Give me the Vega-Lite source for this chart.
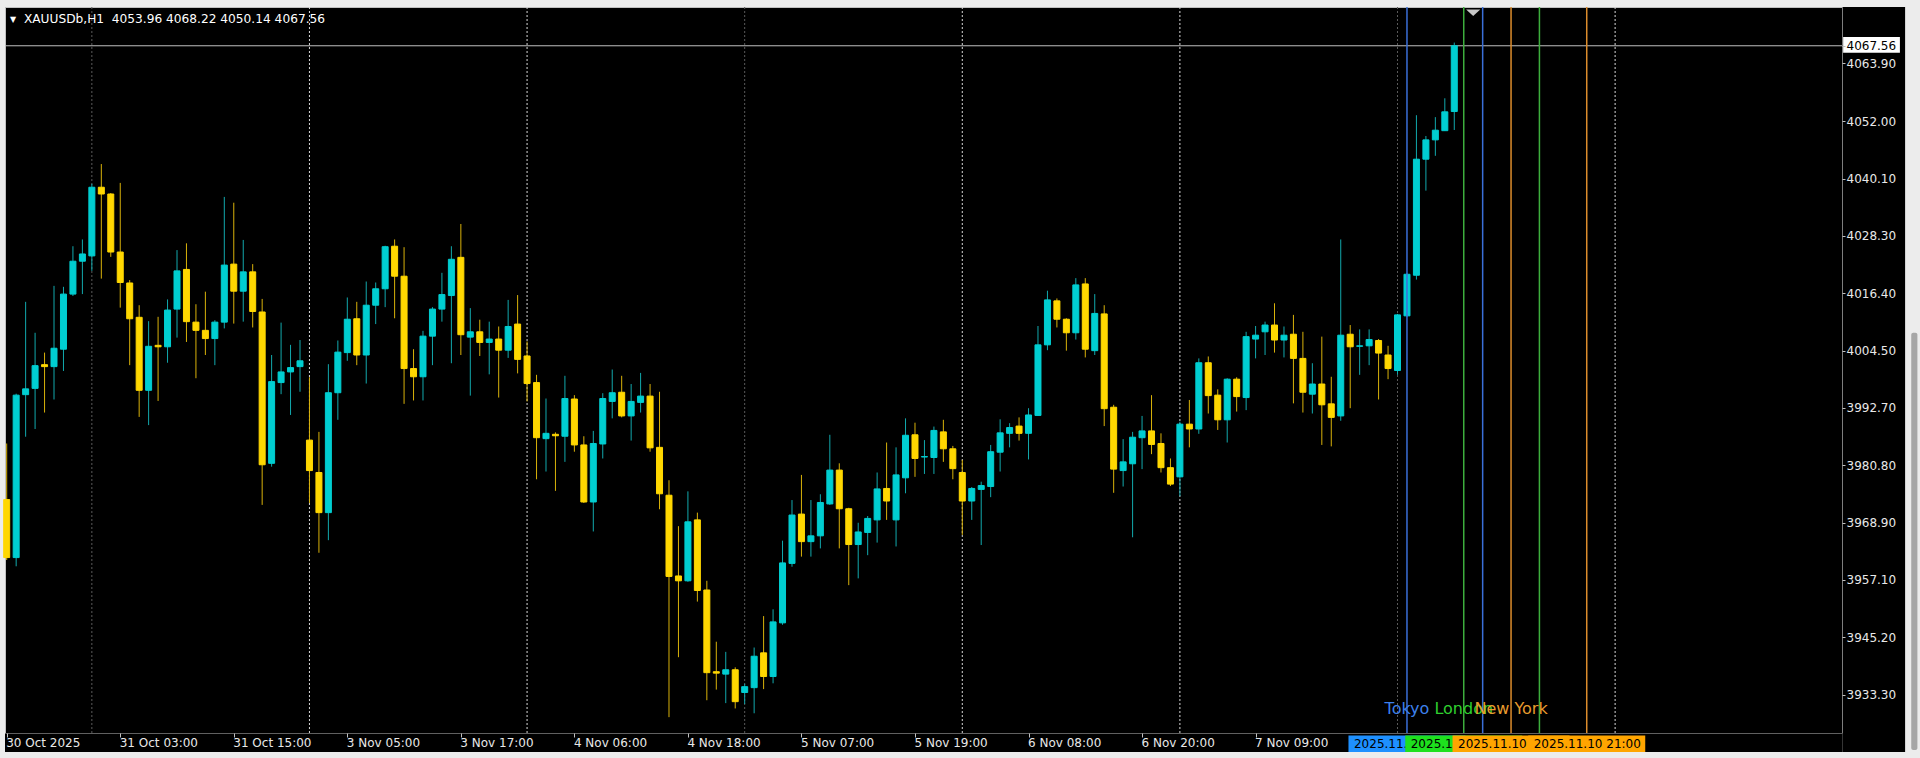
{
  "$schema": "https://vega.github.io/schema/vega-lite/v6.json",
  "width": 1837,
  "height": 726,
  "autosize": {"type": "none"},
  "padding": {"left": 5, "top": 7, "right": 78, "bottom": 25},
  "background": "#ececec",
  "view": {"stroke": "#c0c0c0", "strokeWidth": 1, "fill": "#000000"},
  "datasets": {
    "bars": [
      {"i":0,"o":3973.7,"h":3985.3,"l":3961.2,"c":3961.7},
      {"i":1,"o":3961.7,"h":3995.6,"l":3959.9,"c":3995.3},
      {"i":2,"o":3995.4,"h":4014.6,"l":3986.7,"c":3996.6},
      {"i":3,"o":3996.7,"h":4008.2,"l":3988.3,"c":4001.4},
      {"i":4,"o":4001.6,"h":4004.1,"l":3991.7,"c":4001.2},
      {"i":5,"o":4001.2,"h":4017.9,"l":3994.4,"c":4005.0},
      {"i":6,"o":4004.8,"h":4017.7,"l":4000.3,"c":4016.2},
      {"i":7,"o":4016.2,"h":4026.1,"l":4015.8,"c":4023.0},
      {"i":8,"o":4023.0,"h":4027.5,"l":4016.2,"c":4024.5},
      {"i":9,"o":4024.1,"h":4039.0,"l":4021.0,"c":4038.3},
      {"i":10,"o":4038.3,"h":4043.1,"l":4019.4,"c":4036.9},
      {"i":11,"o":4036.9,"h":4037.1,"l":4023.9,"c":4024.9},
      {"i":12,"o":4024.9,"h":4039.2,"l":4013.4,"c":4018.6},
      {"i":13,"o":4018.5,"h":4019.1,"l":4001.5,"c":4011.1},
      {"i":14,"o":4011.4,"h":4013.9,"l":3990.8,"c":3996.3},
      {"i":15,"o":3996.3,"h":4010.6,"l":3989.1,"c":4005.4},
      {"i":16,"o":4005.6,"h":4011.5,"l":3994.1,"c":4005.3},
      {"i":17,"o":4005.3,"h":4015.1,"l":4002.0,"c":4012.9},
      {"i":18,"o":4013.1,"h":4025.3,"l":4007.2,"c":4021.0},
      {"i":19,"o":4021.3,"h":4026.7,"l":4006.3,"c":4010.5},
      {"i":20,"o":4010.4,"h":4014.1,"l":3998.8,"c":4008.7},
      {"i":21,"o":4008.7,"h":4016.7,"l":4003.6,"c":4007.0},
      {"i":22,"o":4007.0,"h":4010.8,"l":4001.5,"c":4010.4},
      {"i":23,"o":4010.4,"h":4036.3,"l":4009.1,"c":4022.2},
      {"i":24,"o":4022.4,"h":4035.1,"l":4010.1,"c":4016.8},
      {"i":25,"o":4016.8,"h":4027.4,"l":4010.5,"c":4020.8},
      {"i":26,"o":4020.8,"h":4022.4,"l":4009.3,"c":4012.6},
      {"i":27,"o":4012.5,"h":4015.2,"l":3972.6,"c":3980.9},
      {"i":28,"o":3981.2,"h":4003.6,"l":3980.5,"c":3998.1},
      {"i":29,"o":3997.9,"h":4010.3,"l":3995.5,"c":4000.1},
      {"i":30,"o":4000.1,"h":4005.7,"l":3991.2,"c":4001.0},
      {"i":31,"o":4001.2,"h":4006.7,"l":3996.0,"c":4002.4},
      {"i":32,"o":3986.0,"h":3999.0,"l":3973.0,"c":3979.7},
      {"i":33,"o":3979.3,"h":3987.7,"l":3962.7,"c":3971.0},
      {"i":34,"o":3971.0,"h":4001.7,"l":3965.3,"c":3995.8},
      {"i":35,"o":3995.8,"h":4006.6,"l":3990.2,"c":4004.2},
      {"i":36,"o":4004.1,"h":4015.5,"l":4002.4,"c":4011.0},
      {"i":37,"o":4011.1,"h":4014.6,"l":4001.5,"c":4003.6},
      {"i":38,"o":4003.6,"h":4018.8,"l":3997.7,"c":4013.9},
      {"i":39,"o":4013.9,"h":4018.6,"l":4010.0,"c":4017.3},
      {"i":40,"o":4017.3,"h":4026.2,"l":4013.5,"c":4026.0},
      {"i":41,"o":4026.1,"h":4027.5,"l":4011.2,"c":4019.9},
      {"i":42,"o":4019.9,"h":4025.9,"l":3993.5,"c":4000.8},
      {"i":43,"o":4000.8,"h":4004.8,"l":3994.2,"c":3999.1},
      {"i":44,"o":3999.1,"h":4008.6,"l":3994.2,"c":4007.5},
      {"i":45,"o":4007.5,"h":4013.5,"l":4001.5,"c":4013.1},
      {"i":46,"o":4013.1,"h":4020.6,"l":4010.5,"c":4016.1},
      {"i":47,"o":4015.9,"h":4026.1,"l":4001.9,"c":4023.4},
      {"i":48,"o":4023.8,"h":4030.7,"l":4003.6,"c":4007.8},
      {"i":49,"o":4007.3,"h":4013.3,"l":3995.2,"c":4008.4},
      {"i":50,"o":4008.4,"h":4010.9,"l":4003.4,"c":4006.2},
      {"i":51,"o":4006.2,"h":4010.5,"l":3999.6,"c":4006.9},
      {"i":52,"o":4006.9,"h":4009.5,"l":3994.8,"c":4004.6},
      {"i":53,"o":4004.6,"h":4015.0,"l":4003.0,"c":4009.5},
      {"i":54,"o":4010.0,"h":4016.0,"l":3999.8,"c":4002.7},
      {"i":55,"o":4003.4,"h":4006.4,"l":3994.0,"c":3997.7},
      {"i":56,"o":3997.9,"h":3999.5,"l":3977.9,"c":3986.5},
      {"i":57,"o":3986.3,"h":3994.6,"l":3979.5,"c":3987.4},
      {"i":58,"o":3987.2,"h":3987.6,"l":3975.5,"c":3986.9},
      {"i":59,"o":3986.8,"h":3999.3,"l":3981.5,"c":3994.6},
      {"i":60,"o":3994.5,"h":3995.3,"l":3983.6,"c":3985.0},
      {"i":61,"o":3985.0,"h":3986.8,"l":3973.0,"c":3973.2},
      {"i":62,"o":3973.2,"h":3987.9,"l":3967.1,"c":3985.3},
      {"i":63,"o":3985.2,"h":3995.7,"l":3982.2,"c":3994.6},
      {"i":64,"o":3994.0,"h":4000.6,"l":3990.5,"c":3995.8},
      {"i":65,"o":3995.9,"h":3999.3,"l":3990.7,"c":3991.0},
      {"i":66,"o":3991.0,"h":3997.6,"l":3985.9,"c":3994.0},
      {"i":67,"o":3993.8,"h":3999.9,"l":3991.7,"c":3995.1},
      {"i":68,"o":3995.1,"h":3997.6,"l":3983.6,"c":3984.4},
      {"i":69,"o":3984.5,"h":3996.0,"l":3971.7,"c":3974.9},
      {"i":70,"o":3974.6,"h":3977.7,"l":3928.7,"c":3957.8},
      {"i":71,"o":3957.9,"h":3968.2,"l":3941.1,"c":3956.9},
      {"i":72,"o":3956.9,"h":3975.4,"l":3956.7,"c":3969.1},
      {"i":73,"o":3969.5,"h":3971.0,"l":3952.6,"c":3954.9},
      {"i":74,"o":3955.0,"h":3956.9,"l":3932.2,"c":3937.9},
      {"i":75,"o":3938.1,"h":3944.3,"l":3934.4,"c":3937.8},
      {"i":76,"o":3937.6,"h":3942.2,"l":3931.6,"c":3938.5},
      {"i":77,"o":3938.5,"h":3939.0,"l":3930.5,"c":3931.9},
      {"i":78,"o":3933.8,"h":3935.6,"l":3931.4,"c":3935.0},
      {"i":79,"o":3934.8,"h":3943.1,"l":3929.5,"c":3941.3},
      {"i":80,"o":3942.0,"h":3949.6,"l":3934.5,"c":3937.1},
      {"i":81,"o":3937.1,"h":3951.0,"l":3935.7,"c":3948.4},
      {"i":82,"o":3948.2,"h":3965.2,"l":3947.8,"c":3960.6},
      {"i":83,"o":3960.5,"h":3973.6,"l":3959.8,"c":3970.5},
      {"i":84,"o":3970.7,"h":3978.8,"l":3961.9,"c":3965.0},
      {"i":85,"o":3965.0,"h":3973.6,"l":3961.9,"c":3966.2},
      {"i":86,"o":3966.2,"h":3974.8,"l":3963.6,"c":3973.1},
      {"i":87,"o":3972.8,"h":3987.1,"l":3972.6,"c":3979.8},
      {"i":88,"o":3979.8,"h":3981.2,"l":3963.6,"c":3971.8},
      {"i":89,"o":3971.8,"h":3972.0,"l":3956.0,"c":3964.4},
      {"i":90,"o":3964.4,"h":3968.9,"l":3957.4,"c":3967.0},
      {"i":91,"o":3966.9,"h":3970.3,"l":3962.2,"c":3969.8},
      {"i":92,"o":3969.5,"h":3979.3,"l":3964.8,"c":3975.9},
      {"i":93,"o":3976.0,"h":3985.5,"l":3969.5,"c":3973.4},
      {"i":94,"o":3969.5,"h":3984.5,"l":3964.0,"c":3978.8},
      {"i":95,"o":3978.2,"h":3990.5,"l":3975.0,"c":3987.0},
      {"i":96,"o":3987.1,"h":3989.6,"l":3978.4,"c":3982.2},
      {"i":97,"o":3982.5,"h":3986.0,"l":3979.0,"c":3982.6},
      {"i":98,"o":3982.4,"h":3988.8,"l":3979.0,"c":3988.0},
      {"i":99,"o":3987.7,"h":3990.2,"l":3981.5,"c":3984.2},
      {"i":100,"o":3984.2,"h":3984.8,"l":3977.9,"c":3980.1},
      {"i":101,"o":3979.3,"h":3981.9,"l":3966.4,"c":3973.4},
      {"i":102,"o":3973.4,"h":3976.3,"l":3969.5,"c":3976.0},
      {"i":103,"o":3975.8,"h":3977.4,"l":3964.3,"c":3976.6},
      {"i":104,"o":3976.4,"h":3985.0,"l":3974.2,"c":3983.6},
      {"i":105,"o":3983.5,"h":3990.3,"l":3979.5,"c":3987.5},
      {"i":106,"o":3987.4,"h":3989.5,"l":3984.5,"c":3988.6},
      {"i":107,"o":3988.9,"h":3990.7,"l":3985.9,"c":3987.4},
      {"i":108,"o":3987.4,"h":3992.6,"l":3982.0,"c":3991.2},
      {"i":109,"o":3991.1,"h":4009.6,"l":3991.0,"c":4005.7},
      {"i":110,"o":4005.7,"h":4016.9,"l":4004.6,"c":4015.0},
      {"i":111,"o":4014.8,"h":4015.3,"l":4009.3,"c":4011.0},
      {"i":112,"o":4011.0,"h":4011.2,"l":4004.5,"c":4008.2},
      {"i":113,"o":4008.2,"h":4019.5,"l":4006.8,"c":4018.1},
      {"i":114,"o":4018.3,"h":4019.5,"l":4003.1,"c":4004.8},
      {"i":115,"o":4004.5,"h":4016.2,"l":4003.6,"c":4012.2},
      {"i":116,"o":4012.1,"h":4013.9,"l":3988.9,"c":3992.5},
      {"i":117,"o":3992.8,"h":3993.3,"l":3975.1,"c":3980.0},
      {"i":118,"o":3979.7,"h":3986.2,"l":3976.4,"c":3981.5},
      {"i":119,"o":3981.1,"h":3987.7,"l":3965.9,"c":3986.6},
      {"i":120,"o":3986.5,"h":3991.0,"l":3980.0,"c":3987.9},
      {"i":121,"o":3987.9,"h":3995.3,"l":3983.1,"c":3985.1},
      {"i":122,"o":3985.3,"h":3987.4,"l":3979.3,"c":3980.3},
      {"i":123,"o":3980.3,"h":3982.2,"l":3976.5,"c":3976.9},
      {"i":124,"o":3978.4,"h":3989.8,"l":3974.4,"c":3989.3},
      {"i":125,"o":3989.3,"h":3994.3,"l":3984.5,"c":3988.3},
      {"i":126,"o":3988.3,"h":4002.9,"l":3987.3,"c":4002.0},
      {"i":127,"o":4002.0,"h":4003.3,"l":3991.5,"c":3995.2},
      {"i":128,"o":3995.3,"h":3996.5,"l":3988.1,"c":3990.2},
      {"i":129,"o":3990.2,"h":3998.8,"l":3985.5,"c":3998.6},
      {"i":130,"o":3998.6,"h":3999.0,"l":3991.9,"c":3995.0},
      {"i":131,"o":3994.8,"h":4008.4,"l":3992.2,"c":4007.4},
      {"i":132,"o":4006.9,"h":4009.6,"l":4002.9,"c":4007.7},
      {"i":133,"o":4008.4,"h":4010.5,"l":4003.6,"c":4009.8},
      {"i":134,"o":4009.8,"h":4014.3,"l":4004.1,"c":4006.7},
      {"i":135,"o":4006.7,"h":4009.5,"l":4003.1,"c":4007.7},
      {"i":136,"o":4007.9,"h":4011.9,"l":3993.6,"c":4002.9},
      {"i":137,"o":4002.9,"h":4008.4,"l":3991.7,"c":3995.9},
      {"i":138,"o":3995.5,"h":4001.9,"l":3991.5,"c":3997.6},
      {"i":139,"o":3997.6,"h":4007.4,"l":3985.0,"c":3993.3},
      {"i":140,"o":3993.5,"h":3999.1,"l":3984.7,"c":3990.7},
      {"i":141,"o":3991.0,"h":4027.5,"l":3990.0,"c":4007.7},
      {"i":142,"o":4007.9,"h":4009.8,"l":3992.6,"c":4005.3},
      {"i":143,"o":4005.4,"h":4008.9,"l":3999.5,"c":4005.5},
      {"i":144,"o":4005.5,"h":4008.9,"l":4001.5,"c":4006.8},
      {"i":145,"o":4006.6,"h":4006.9,"l":3994.4,"c":4004.0},
      {"i":146,"o":4003.6,"h":4005.5,"l":3998.6,"c":4000.8},
      {"i":147,"o":4000.4,"h":4012.1,"l":3999.5,"c":4011.9},
      {"i":148,"o":4011.7,"h":4020.5,"l":4011.5,"c":4020.3},
      {"i":149,"o":4020.1,"h":4053.2,"l":4019.2,"c":4044.1},
      {"i":150,"o":4044.1,"h":4048.9,"l":4037.6,"c":4048.1},
      {"i":151,"o":4048.1,"h":4052.8,"l":4044.8,"c":4050.1},
      {"i":152,"o":4050.0,"h":4056.7,"l":4050.0,"c":4053.9},
      {"i":153,"o":4053.96,"h":4068.22,"l":4050.14,"c":4067.56}
    ],
    "seps": [{"i":9},{"i":32},{"i":55},{"i":78},{"i":101},{"i":124},{"i":147},{"i":170}],
    "sess": [
      {"i":148,"s":"Tokyo","t":"2025.11.10 02:00"},
      {"i":154,"s":"London","t":"2025.11.10 08:00"},
      {"i":156,"s":"Tokyo","t":"2025.11.10 10:00"},
      {"i":159,"s":"New York","t":"2025.11.10 13:00"},
      {"i":162,"s":"London","t":"2025.11.10 16:00"},
      {"i":167,"s":"New York","t":"2025.11.10 21:00"}
    ],
    "one": [{"price": 4067.56, "head": "▾\u00a0\u00a0XAUUSDb,H1\u00a0\u00a04053.96 4068.22 4050.14 4067.56"}]
  },
  "encoding": {
    "x": {
      "type": "quantitative",
      "scale": {"domain": [-0.18, 193.98], "nice": false, "zero": false, "padding": 0},
      "axis": {
        "orient": "bottom", "title": null, "grid": false, "domain": false, "zindex": 1,
        "values": [0,12,24,36,48,60,72,84,96,108,120,132],
        "labelExpr": "['30 Oct 2025','31 Oct 03:00','31 Oct 15:00','3 Nov 05:00','3 Nov 17:00','4 Nov 06:00','4 Nov 18:00','5 Nov 07:00','5 Nov 19:00','6 Nov 08:00','6 Nov 20:00','7 Nov 09:00'][round(datum.value/12)]",
        "labelAlign": "left", "labelBaseline": "top", "labelPadding": 0, "labelOffset": -1,
        "labelFont": "DejaVu Sans", "labelFontSize": 12, "labelColor": "#e8e8e8",
        "tickColor": "#c0c0c0", "tickSize": 4, "labelOverlap": false, "labelFlush": false, "labelBound": false
      }
    },
    "y": {
      "type": "quantitative",
      "scale": {"domain": [3925.42, 4075.58], "nice": false, "zero": false, "padding": 0},
      "axis": {
        "orient": "right", "title": null, "grid": false, "domain": false, "zindex": 1,
        "values": [4067.56, 4063.9, 4052.0, 4040.1, 4028.3, 4016.4, 4004.5, 3992.7, 3980.8, 3968.9, 3957.1, 3945.2, 3933.3],
        "format": ".2f",
        "labelAlign": "left", "labelPadding": 1,
        "labelFont": "DejaVu Sans", "labelFontSize": 12,
        "labelColor": {"condition": {"test": "datum.value == 4067.56", "value": "#000000"}, "value": "#e8e8e8"},
        "tickColor": "#c0c0c0", "tickSize": 3, "labelOverlap": false, "labelFlush": false, "labelBound": false
      }
    }
  },
  "layer": [
    {
      "data": {"name": "one"},
      "mark": {"type": "rect", "fill": "#000000", "clip": false},
      "encoding": {"x": {"datum": 194.05}, "x2": {"datum": 200.65}, "y": {"datum": 4075.58}, "y2": {"datum": 3921.49}}
    },
    {
      "data": {"name": "one"},
      "mark": {"type": "rect", "fill": "#000000", "clip": false},
      "encoding": {"x": {"datum": -0.18}, "x2": {"datum": 194.05}, "y": {"datum": 3925.32}, "y2": {"datum": 3921.49}}
    },
    {
      "data": {"name": "one"},
      "mark": {"type": "rect", "fill": "#a6a6a6", "clip": false, "cornerRadius": 2},
      "encoding": {"x": {"datum": 201.3}, "x2": {"datum": 201.95}, "y": {"datum": 4008.2}, "y2": {"datum": 3921.9}}
    },
    {
      "data": {"name": "seps"},
      "mark": {"type": "rule", "strokeDash": [2, 2], "strokeWidth": 1},
      "encoding": {
        "x": {"field": "i", "type": "quantitative"},
        "stroke": {"condition": {"test": "indexof([9,78,147], datum.i) >= 0", "value": "#5a5a5a"}, "value": "#d8d8d8"}
      }
    },
    {
      "data": {"name": "one"},
      "mark": {"type": "rule", "stroke": "#c0c0c0", "strokeWidth": 1},
      "encoding": {"y": {"field": "price", "type": "quantitative"}}
    },
    {
      "data": {"name": "bars"},
      "mark": {"type": "rule", "strokeWidth": 1},
      "encoding": {
        "x": {"field": "i", "type": "quantitative"},
        "y": {"field": "l", "type": "quantitative"},
        "y2": {"field": "h"},
        "stroke": {"condition": {"test": "datum.c >= datum.o", "value": "#12a9ad"}, "value": "#d9b20a"}
      }
    },
    {
      "data": {"name": "bars"},
      "mark": {"type": "bar", "width": 6, "strokeWidth": 1},
      "encoding": {
        "x": {"field": "i", "type": "quantitative"},
        "y": {"field": "o", "type": "quantitative"},
        "y2": {"field": "c"},
        "fill": {"condition": {"test": "datum.c >= datum.o", "value": "#00CED1"}, "value": "#FFD700"},
        "stroke": {"condition": {"test": "datum.c >= datum.o", "value": "#00CED1"}, "value": "#FFD700"}
      }
    },
    {
      "data": {"name": "sess"},
      "mark": {"type": "rule", "strokeWidth": 1.5},
      "encoding": {
        "x": {"field": "i", "type": "quantitative"},
        "stroke": {"condition": [{"test": "datum.s == 'Tokyo'", "value": "#3a6fd8"}, {"test": "datum.s == 'London'", "value": "#3dae3d"}], "value": "#dc8c2c"}
      }
    },
    {
      "data": {"name": "sess"},
      "transform": [{"filter": "indexof([148,154,159], datum.i) >= 0"}],
      "mark": {"type": "text", "align": "center", "baseline": "middle", "font": "DejaVu Sans", "fontSize": 16},
      "encoding": {
        "x": {"field": "i", "type": "quantitative"},
        "y": {"datum": 3930.4},
        "text": {"field": "s"},
        "fill": {"condition": [{"test": "datum.s == 'Tokyo'", "value": "#3d80ec"}, {"test": "datum.s == 'London'", "value": "#2fcf2f"}], "value": "#e89b2e"}
      }
    },
    {
      "data": {"name": "one"},
      "mark": {"type": "text", "align": "left", "baseline": "middle", "font": "DejaVu Sans", "fontSize": 12.2, "fill": "#ffffff"},
      "encoding": {"x": {"datum": 0.35}, "y": {"datum": 4073.1}, "text": {"field": "head"}}
    },
    {
      "data": {"name": "one"},
      "mark": {"type": "point", "shape": "M-1,-0.45L1,-0.45L0,0.45Z", "size": 200, "filled": true, "fill": "#c8c8c8", "strokeWidth": 0, "opacity": 1},
      "encoding": {"x": {"datum": 155.0}, "y": {"datum": 4074.4}}
    },
    {
      "data": {"name": "one"},
      "mark": {"type": "rect", "fill": "#ffffff", "clip": false},
      "encoding": {"x": {"datum": 194.1}, "x2": {"datum": 200.1}, "y": {"datum": 4069.4}, "y2": {"datum": 4066.1}}
    },
    {
      "data": {"name": "sess"},
      "transform": [{"filter": "datum.i == 148"}],
      "layer": [
        {"mark": {"type": "bar", "width": 117, "fill": "#1E90FF", "clip": false},
         "encoding": {"x": {"field": "i", "type": "quantitative"}, "y": {"datum": 3924.9}, "y2": {"datum": 3921.5}}},
        {"mark": {"type": "text", "align": "left", "baseline": "middle", "dx": -53, "font": "DejaVu Sans", "fontSize": 12, "fill": "#000000"},
         "encoding": {"x": {"field": "i", "type": "quantitative"}, "y": {"datum": 3923.2}, "text": {"field": "t"}}}
      ]
    },
    {
      "data": {"name": "sess"},
      "transform": [{"filter": "datum.i == 154"}],
      "layer": [
        {"mark": {"type": "bar", "width": 117, "fill": "#1EE01E", "clip": false},
         "encoding": {"x": {"field": "i", "type": "quantitative"}, "y": {"datum": 3924.9}, "y2": {"datum": 3921.5}}},
        {"mark": {"type": "text", "align": "left", "baseline": "middle", "dx": -53, "font": "DejaVu Sans", "fontSize": 12, "fill": "#000000"},
         "encoding": {"x": {"field": "i", "type": "quantitative"}, "y": {"datum": 3923.2}, "text": {"field": "t"}}}
      ]
    },
    {
      "data": {"name": "sess"},
      "transform": [{"filter": "datum.i == 159"}],
      "layer": [
        {"mark": {"type": "bar", "width": 117, "fill": "#FFA500", "clip": false},
         "encoding": {"x": {"field": "i", "type": "quantitative"}, "y": {"datum": 3924.9}, "y2": {"datum": 3921.5}}},
        {"mark": {"type": "text", "align": "left", "baseline": "middle", "dx": -53, "font": "DejaVu Sans", "fontSize": 12, "fill": "#000000"},
         "encoding": {"x": {"field": "i", "type": "quantitative"}, "y": {"datum": 3923.2}, "text": {"field": "t"}}}
      ]
    },
    {
      "data": {"name": "sess"},
      "transform": [{"filter": "datum.i == 167"}],
      "layer": [
        {"mark": {"type": "bar", "width": 117, "fill": "#FFA500", "clip": false},
         "encoding": {"x": {"field": "i", "type": "quantitative"}, "y": {"datum": 3924.9}, "y2": {"datum": 3921.5}}},
        {"mark": {"type": "text", "align": "left", "baseline": "middle", "dx": -53, "font": "DejaVu Sans", "fontSize": 12, "fill": "#000000"},
         "encoding": {"x": {"field": "i", "type": "quantitative"}, "y": {"datum": 3923.2}, "text": {"field": "t"}}}
      ]
    }
  ]
}
